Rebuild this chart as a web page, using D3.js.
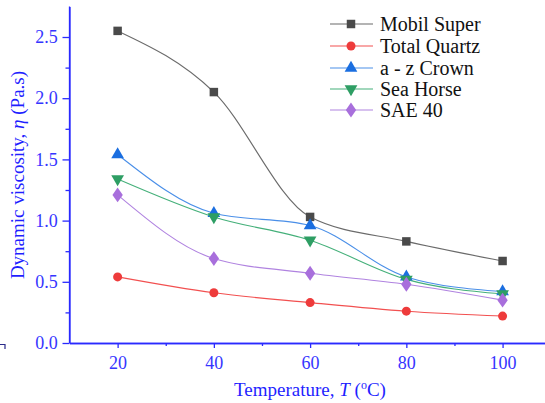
<!DOCTYPE html>
<html><head><meta charset="utf-8">
<script src="https://cdn.jsdelivr.net/npm/d3@7"></script>
<style>body{margin:0;background:#fff}svg{display:block}</style>
</head><body>
<script>
const temps = [20, 40, 60, 80, 100];
const mobilSuper = [2.55, 2.05, 1.03, 0.83, 0.67];
const totalQuartz = [0.54, 0.41, 0.33, 0.26, 0.22];
const azCrown = [1.54, 1.06, 0.96, 0.54, 0.42];
const seaHorse = [1.34, 1.03, 0.84, 0.52, 0.40];
const sae40 = [1.21, 0.69, 0.57, 0.48, 0.35];
const seriesNames = ["Mobil Super", "Total Quartz", "a - z Crown", "Sea Horse", "SAE 40"];
const xTicks = [20, 40, 60, 80, 100];
const yTicks = [0.0, 0.5, 1.0, 1.5, 2.0, 2.5];

const series = [
  {name: seriesNames[0], values: mobilSuper, line: "#6b6b6b", fill: "#4a4a4a", sym: "square"},
  {name: seriesNames[1], values: totalQuartz, line: "#f25050", fill: "#ee3b3b", sym: "circle"},
  {name: seriesNames[2], values: azCrown, line: "#4a8fe8", fill: "#1a6ee0", sym: "up"},
  {name: seriesNames[3], values: seaHorse, line: "#45b07a", fill: "#2e9e64", sym: "down"},
  {name: seriesNames[4], values: sae40, line: "#b083e0", fill: "#a86fdc", sym: "diamond"}
];

const FONT = "'Liberation Serif', 'Times New Roman', Times, serif";
const W = 545, H = 403;
const svg = d3.select("body").append("svg").attr("width", W).attr("height", H)
  .style("font-family", FONT);
const x = d3.scaleLinear().domain([10, 110]).range([69.5, 550.7]);
const y = d3.scaleLinear().domain([0, 2.75]).range([343, 6.4]);
const axisCol = "#2a2aff", textCol = "#3535ff";

// axes
const xAxis = svg.append("g").attr("transform", `translate(0,${y(0)})`)
  .call(d3.axisBottom(x).tickValues(xTicks).tickSize(5).tickSizeOuter(0).tickFormat(d3.format("d")));
const xMinor = svg.append("g").attr("transform", `translate(0,${y(0)})`)
  .call(d3.axisBottom(x).tickValues([30, 50, 70, 90]).tickSize(3).tickSizeOuter(0).tickFormat(""));
const yAxis = svg.append("g").attr("transform", `translate(${x(10)},0)`)
  .call(d3.axisLeft(y).tickValues(yTicks).tickSize(7).tickSizeOuter(0).tickFormat(d3.format(".1f")));
const yMinor = svg.append("g").attr("transform", `translate(${x(10)},0)`)
  .call(d3.axisLeft(y).tickValues([0.25, 0.75, 1.25, 1.75, 2.25]).tickSize(4).tickSizeOuter(0).tickFormat(""));
[xAxis, xMinor, yAxis, yMinor].forEach(g => {
  g.attr("font-family", null).attr("font-size", null);
  g.selectAll("path,line").attr("stroke", axisCol).attr("stroke-width", 1.3);
  g.selectAll("text").attr("fill", textCol).style("font-family", FONT).style("font-size", "18px");
});
xAxis.selectAll("text").attr("dy", "1.0em");
yAxis.selectAll("text").attr("dx", "-0.1em");
yAxis.select("path").attr("d", `M0,${y(2.75)}V${y(0)}`);

// small artifact at left
svg.append("path").attr("d", "M0,344.5H5V349").attr("fill", "none").attr("stroke", "#2a2a8a").attr("stroke-width", 1.2);

// lines
const line = d3.line().x((d, i) => x(temps[i])).y(d => y(d)).curve(d3.curveMonotoneX);
const symType = {square: d3.symbolSquare, circle: d3.symbolCircle, up: d3.symbolTriangle, down: d3.symbolTriangle, diamond: d3.symbolDiamond};
const symSize = {square: 72, circle: 64, up: 70, down: 70, diamond: 70};
function drawSym(g, s, cx, cy) {
  g.append("path").attr("d", d3.symbol().type(symType[s.sym]).size(symSize[s.sym])())
    .attr("transform", `translate(${cx},${cy})${s.sym === "down" ? " rotate(180)" : ""}${s.sym === "diamond" ? " scale(1.15,0.95)" : ""}`)
    .attr("fill", s.fill);
}
series.forEach(s => {
  svg.append("path").datum(s.values).attr("d", line).attr("fill", "none")
    .attr("stroke", s.line).attr("stroke-width", 1.1);
});
series.forEach(s => {
  const g = svg.append("g");
  s.values.forEach((v, i) => drawSym(g, s, x(temps[i]), y(v)));
});

// legend
const legRows = [24, 46, 68, 89, 110];
series.forEach((s, i) => {
  const g = svg.append("g");
  g.append("line").attr("x1", 330).attr("x2", 373).attr("y1", legRows[i]).attr("y2", legRows[i])
    .attr("stroke", s.line).attr("stroke-width", 1.2);
  drawSym(g, s, 351, legRows[i]);
  g.append("text").attr("x", 380).attr("y", legRows[i]).attr("dy", "0.35em")
    .style("font-family", FONT).style("font-size", "20px").attr("fill", "#111").text(s.name);
});

// axis titles
const xt = svg.append("text").attr("x", 310).attr("y", 396).attr("text-anchor", "middle")
  .style("font-family", FONT).style("font-size", "19px").attr("fill", "#1f1fff");
xt.append("tspan").text("Temperature, ");
xt.append("tspan").attr("font-style", "italic").text("T");
xt.append("tspan").text(" (");
xt.append("tspan").style("font-size", "12px").attr("dy", -7).text("o");
xt.append("tspan").attr("dy", 7).text("C)");

const yt = svg.append("text").attr("transform", "translate(24,175) rotate(-90)").attr("text-anchor", "middle")
  .style("font-family", FONT).style("font-size", "19px").attr("fill", "#1f1fff");
yt.append("tspan").text("Dynamic viscosity, ");
yt.append("tspan").attr("font-style", "italic").text("η");
yt.append("tspan").text(" (Pa.s)");
</script>
</body></html>
